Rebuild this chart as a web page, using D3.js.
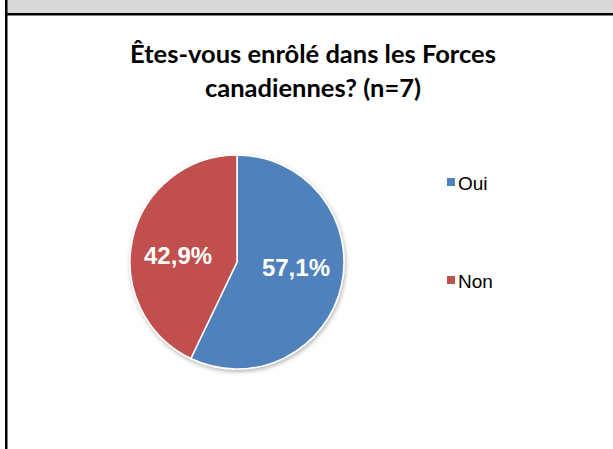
<!DOCTYPE html>
<html><head><meta charset="utf-8">
<script src="https://cdn.jsdelivr.net/npm/d3@7"></script>
<style>html,body{margin:0;padding:0;background:#fff;overflow:hidden}</style>
</head><body>
<script>
const categories = ["Oui", "Non"];
const values = [57.1, 42.9];
const labels = ["57,1%", "42,9%"];
const colors = ["#4F81BD", "#C0504D"];
const titleLines = ["Êtes-vous enrôlé dans les Forces", "canadiennes? (n=7)"];

const W = 613, H = 449;
const svg = d3.select("body").append("svg").attr("width", W).attr("height", H);

// frame
svg.append("rect").attr("x", 7).attr("y", 0).attr("width", W - 7).attr("height", 13).attr("fill", "#D9D9D9");
svg.append("rect").attr("x", 5).attr("y", 13).attr("width", W - 5).attr("height", 2.5).attr("fill", "#000");
svg.append("rect").attr("x", 5).attr("y", 0).attr("width", 2.5).attr("height", H).attr("fill", "#000");

// title
svg.append("text").attr("x", 313).attr("y", 0)
  .attr("text-anchor", "middle")
  .style("font-family", "Lato, 'Open Sans', sans-serif").style("font-weight", "bold").style("font-size", "25.5px")
  .selectAll("tspan").data(titleLines).join("tspan")
  .attr("x", 313).attr("y", (d, i) => 63 + i * 34).text(d => d);

// pie
const cx = 237, cy = 262, R = 107;
const defs = svg.append("defs");
const f = defs.append("filter").attr("id", "sh").attr("x", "-20%").attr("y", "-20%").attr("width", "140%").attr("height", "140%");
f.append("feGaussianBlur").attr("in", "SourceAlpha").attr("stdDeviation", 2);
f.append("feOffset").attr("dx", 1).attr("dy", 2).attr("result", "b");
f.append("feComponentTransfer").append("feFuncA").attr("type", "linear").attr("slope", 0.3);
const m = f.append("feMerge"); m.append("feMergeNode"); m.append("feMergeNode").attr("in", "SourceGraphic");

const pie = d3.pie().sort(null).value(d => d)(values);
const arc = d3.arc().innerRadius(0).outerRadius(R);
const pg = svg.append("g").attr("transform", `translate(${cx},${cy})`).attr("filter", "url(#sh)");
pg.selectAll("path").data(pie).join("path")
  .attr("d", arc)
  .attr("fill", (d, i) => colors[i])
  .attr("stroke", "#fff").attr("stroke-width", 1.5);

const labelArc = d3.arc().innerRadius(0).outerRadius(R * 1.13);
svg.append("g").attr("transform", `translate(${cx},${cy})`)
  .selectAll("text").data(pie).join("text")
  .attr("x", d => labelArc.centroid(d)[0])
  .attr("y", d => labelArc.centroid(d)[1] * 0.45)
  .attr("dy", "0.35em")
  .attr("text-anchor", "middle")
  .attr("fill", "#fff")
  .style("font-family", "Arial, 'Liberation Sans', sans-serif").style("font-weight", "bold").style("font-size", "24px")
  .text((d, i) => labels[i]);

// legend
const lg = svg.append("g");
const legY = [182, 280];
categories.forEach((c, i) => {
  lg.append("rect").attr("x", 447).attr("y", legY[i] - 4).attr("width", 8).attr("height", 8).attr("fill", colors[i]);
  lg.append("text").attr("x", 458).attr("y", legY[i] + 7.5)
    .style("font-family", "Arial, 'Liberation Sans', sans-serif").style("font-size", "19px").attr("fill", "#000").text(c);
});
</script>
</body></html>
